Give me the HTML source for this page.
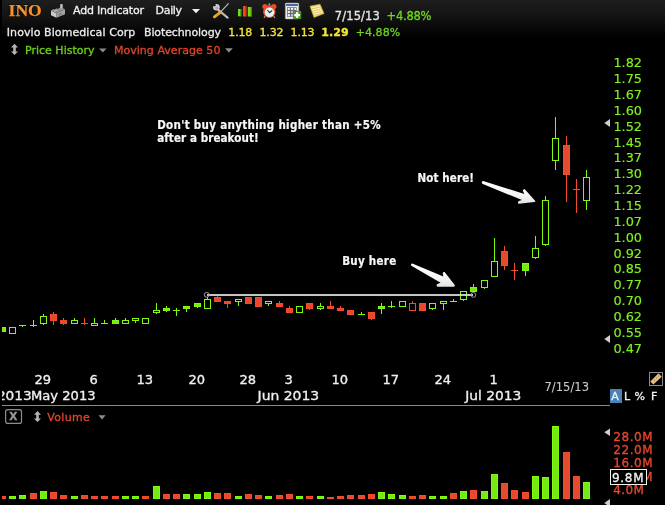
<!DOCTYPE html>
<html><head><meta charset="utf-8">
<style>
html,body{margin:0;padding:0;background:#000;}
body{width:665px;height:505px;overflow:hidden;position:relative;}
svg{display:block;}
.ui{font-family:"DejaVu Sans","Liberation Sans",sans-serif;}
.ui text,text.ui{stroke-width:var(--sw,0.3px);paint-order:stroke;}
.ann{font-family:"DejaVu Sans Condensed","DejaVu Sans",sans-serif;font-weight:bold;fill:#f6f6f6;stroke:#f6f6f6;stroke-width:0.2px;font-size:11.5px;}
</style></head>
<body>
<svg width="665" height="505" viewBox="0 0 665 505">
<defs>
<linearGradient id="hdr" x1="0" y1="0" x2="0" y2="1">
<stop offset="0" stop-color="#1e1e1e"/><stop offset="0.5" stop-color="#111"/><stop offset="1" stop-color="#000"/>
</linearGradient>
<linearGradient id="arr" x1="0" y1="0" x2="0" y2="1">
<stop offset="0" stop-color="#ffffff"/><stop offset="0.6" stop-color="#f6f6f6"/><stop offset="1" stop-color="#e2e2e2"/>
</linearGradient>
<clipPath id="plot"><rect x="2" y="0" width="600" height="505"/></clipPath>
</defs>
<rect width="665" height="505" fill="#000"/>
<rect x="2" y="0" width="663" height="38" fill="url(#hdr)"/>

<!-- header row 1 -->
<text x="8.6" y="15.6" font-family="'Liberation Serif',serif" font-weight="bold" font-size="17" fill="#000" stroke="#000" stroke-width="1.6" stroke-opacity="0.55" textLength="33.2" lengthAdjust="spacingAndGlyphs">INO</text>
<text x="8.6" y="15.6" font-family="'Liberation Serif',serif" font-weight="bold" font-size="17" fill="#f5922f" stroke="#f5922f" stroke-width="0.25" textLength="33.2" lengthAdjust="spacingAndGlyphs">INO</text>
<!-- factory icon -->
<g>
<polygon points="51,10.6 56.4,13.2 56.4,17.8 51,15.2" fill="#cacaca"/>
<polygon points="56.4,13.2 65,9.2 65,14.2 56.4,17.8" fill="#a4a4a4"/>
<polygon points="51,10.6 53.6,9 54.6,9.8 56.8,8.2 57.8,9 60.2,7.6 60.2,4.2 62.6,4.2 62.6,8 65,9.2 56.4,13.2" fill="#909090"/>
<polygon points="60.2,4.2 62.6,4.2 62.6,8.4 60.2,8.4" fill="#b8b8b8"/>
<polygon points="53,10.8 55.6,9.6 57.6,10.4 55,11.8" fill="#b4b4b4"/>
<polygon points="58.6,14 61.6,12.6 61.6,14.6 58.6,16" fill="#7c7c7c"/>
</g>
<g class="ui" font-size="11" fill="#f0f0f0" stroke="#f0f0f0">
<text x="73" y="13.5" textLength="71" lengthAdjust="spacing">Add Indicator</text>
<text x="155.6" y="13.5" textLength="26.5" lengthAdjust="spacing">Daily</text>
</g>
<polygon points="192,9 200,9 196,13.3" fill="#f0f0f0"/>
<!-- tools icon -->
<g>
<polygon points="217.6,8.2 219.4,9.4 228.6,17.2 228.4,18.6 227,18.4 217.2,10.4" fill="#d4d4d4" stroke="#6a6a6a" stroke-width="0.4"/>
<line x1="221" y1="12.2" x2="226" y2="16.4" stroke="#9a9a9a" stroke-width="0.5"/>
<circle cx="216.4" cy="7.2" r="3.3" fill="#cfcfcf"/>
<circle cx="217" cy="8" r="1.6" fill="#a8a8a8"/>
<polygon points="212.2,4.8 214.6,3 216,5.6 214.4,6.6" fill="#151515"/>
<line x1="228.6" y1="3.4" x2="220.4" y2="12.2" stroke="#bdbdbd" stroke-width="1.2"/>
<line x1="220.6" y1="12.2" x2="214.4" y2="16.8" stroke="#f2b424" stroke-width="2.8" stroke-linecap="round"/>
<line x1="219.6" y1="13" x2="215" y2="16.3" stroke="#8a5a08" stroke-width="0.6" stroke-dasharray="0.9,0.9"/>
</g>
<!-- bars icon -->
<g>
<rect x="238" y="9" width="3.3" height="7.3" fill="#6ee00e"/>
<rect x="243" y="6" width="3.5" height="10.5" fill="#ee4a28"/>
<rect x="247.8" y="7" width="3.8" height="9.5" fill="#6ee00e"/>
<rect x="240.3" y="9" width="1" height="7.3" fill="#3a8a08"/>
<rect x="245.5" y="6" width="1" height="10.5" fill="#a02a10"/>
<rect x="250.6" y="7" width="1" height="9.5" fill="#3a8a08"/>
</g>
<!-- alarm clock -->
<g>
<rect x="268.6" y="3.4" width="1.6" height="1.8" fill="#9ab0b8"/>
<circle cx="265" cy="6.6" r="2.7" fill="#e4502a"/>
<circle cx="273.8" cy="6.6" r="2.7" fill="#e4502a"/>
<line x1="265.2" y1="16" x2="264" y2="17.8" stroke="#a0a0a0" stroke-width="1.2"/>
<line x1="273.6" y1="16" x2="274.8" y2="17.8" stroke="#a0a0a0" stroke-width="1.2"/>
<circle cx="269.3" cy="11.6" r="6.3" fill="#e44e28"/>
<circle cx="269.5" cy="12.3" r="4.8" fill="#e2f2fb"/>
<polyline points="267.4,10 269.7,12.6 272.2,10.4" fill="none" stroke="#2a2020" stroke-width="1.1"/>
</g>
<!-- calendar plus icon -->
<g>
<rect x="285.3" y="3" width="13.5" height="16" rx="0.8" fill="#ececec" stroke="#9a9a9a" stroke-width="0.5"/>
<rect x="286.1" y="3.9" width="11.8" height="2.1" fill="#4468b0"/>
<rect x="287" y="7.2" width="9.6" height="9.6" fill="#6a6a6a"/>
<g fill="#fafafa">
<rect x="287.7" y="7.9" width="2.1" height="2"/><rect x="291" y="7.9" width="2.2" height="2"/><rect x="294.4" y="7.9" width="1.6" height="2"/>
<rect x="287.7" y="11" width="2.1" height="2"/>
<rect x="287.7" y="14.1" width="2.1" height="2.1"/>
</g>
<g fill="#a8c4f0"><rect x="291" y="11" width="2.2" height="2"/><rect x="291" y="14.1" width="2.2" height="2.1"/></g>
<rect x="293.1" y="10.9" width="8.1" height="8.1" fill="#4e8e2a"/>
<rect x="295.9" y="12.1" width="2.4" height="5.8" fill="#fff"/>
<rect x="294.2" y="14" width="5.8" height="2.2" fill="#fff"/>
</g>
<!-- note icon -->
<g>
<polygon points="310,6.2 320,4.2 324,13.6 314,17.4" fill="#f3de7c" stroke="#d8aa28" stroke-width="0.7" stroke-linejoin="round"/>
<polygon points="311.5,7.6 319.2,6 322.4,13.2 314.6,16" fill="#fbefb8"/>
<g stroke="#c9a445" stroke-width="0.6">
<line x1="312" y1="8.8" x2="319.5" y2="7.3"/><line x1="312.8" y1="11" x2="320.4" y2="9.4"/><line x1="313.6" y1="13.2" x2="321.3" y2="11.5"/><line x1="314.4" y1="15.3" x2="322" y2="13.4"/>
</g>
</g>
<g class="ui" font-size="11.5">
<text x="334.8" y="19.9" fill="#e6e6e6" stroke="#e6e6e6" textLength="45" lengthAdjust="spacing">7/15/13</text>
<text x="386.5" y="19.9" fill="#6fd61c" stroke="#6fd61c" textLength="45" lengthAdjust="spacing">+4.88%</text>
</g>

<!-- header row 2 -->
<g class="ui" font-size="11">
<text x="6.8" y="35.5" fill="#ececec" stroke="#ececec" textLength="128.5" lengthAdjust="spacing">Inovio Biomedical Corp</text>
<text x="144" y="35.5" fill="#ececec" stroke="#ececec" textLength="77" lengthAdjust="spacing">Biotechnology</text>
<text x="228.3" y="35.5" fill="#f2e43a" stroke="#f2e43a" textLength="24" lengthAdjust="spacing">1.18</text>
<text x="259.5" y="35.5" fill="#f2e43a" stroke="#f2e43a" textLength="24" lengthAdjust="spacing">1.32</text>
<text x="290.6" y="35.5" fill="#f2e43a" stroke="#f2e43a" textLength="24" lengthAdjust="spacing">1.13</text>
<text x="321.3" y="35.5" fill="#f2e43a" stroke="#f2e43a" font-weight="bold" textLength="27.3" lengthAdjust="spacing">1.29</text>
<text x="355.7" y="35.5" fill="#6fd61c" stroke="#6fd61c" textLength="44.5" lengthAdjust="spacing">+4.88%</text>
</g>

<!-- header row 3 -->
<polygon points="14.5,43.8 18,47.6 15.8,47.6 15.8,51.4 18,51.4 14.5,55 11,51.4 13.2,51.4 13.2,47.6 11,47.6" fill="#b4b4b4"/>
<g class="ui" font-size="11">
<text x="25" y="53.9" fill="#6cd41a" stroke="#6cd41a" textLength="69.5" lengthAdjust="spacing">Price History</text>
<text x="113.9" y="53.8" fill="#e0452a" stroke="#e0452a" textLength="106.5" lengthAdjust="spacing">Moving Average 50</text>
</g>
<polygon points="99,48.5 106.6,48.5 102.8,52.5" fill="#8c8c8c"/>
<polygon points="225,48.2 232.8,48.2 228.9,52.4" fill="#8c8c8c"/>

<!-- chart -->
<g clip-path="url(#plot)">
<rect x="-0.5" y="327.5" width="6" height="4" fill="#74ea12" stroke="#7dfa0f" stroke-width="1"/><rect x="9.5" y="327.5" width="6" height="6" fill="none" stroke="#7dfa0f" stroke-width="1"/><rect x="22" y="326" width="1" height="1" fill="#7dfa0f"/><rect x="19" y="325" width="7" height="1" fill="#7dfa0f"/><rect x="33" y="320" width="1" height="5" fill="#7dfa0f"/><rect x="33" y="326" width="1" height="1" fill="#7dfa0f"/><rect x="30" y="325" width="7" height="1" fill="#7dfa0f"/><rect x="43" y="314" width="1" height="2" fill="#7dfa0f"/><rect x="43" y="324" width="1" height="1" fill="#7dfa0f"/><rect x="40.5" y="316.5" width="6" height="7" fill="none" stroke="#7dfa0f" stroke-width="1"/><rect x="53" y="312" width="1" height="2" fill="#f24b30"/><rect x="53" y="321" width="1" height="4" fill="#f24b30"/><rect x="50.5" y="314.5" width="6" height="6" fill="#e64a2e" stroke="#f24b30" stroke-width="1"/><rect x="63" y="318" width="1" height="2" fill="#f24b30"/><rect x="63" y="324" width="1" height="1" fill="#f24b30"/><rect x="60.5" y="320.5" width="6" height="3" fill="#e64a2e" stroke="#f24b30" stroke-width="1"/><rect x="74" y="318" width="1" height="2" fill="#7dfa0f"/><rect x="71.5" y="320.5" width="6" height="3" fill="none" stroke="#7dfa0f" stroke-width="1"/><rect x="84" y="318" width="1" height="5" fill="#f24b30"/><rect x="84" y="324" width="1" height="1" fill="#f24b30"/><rect x="81" y="323" width="7" height="1" fill="#f24b30"/><rect x="94" y="318" width="1" height="5" fill="#7dfa0f"/><rect x="91.5" y="323.5" width="6" height="2" fill="none" stroke="#7dfa0f" stroke-width="1"/><rect x="104" y="320" width="1" height="3" fill="#7dfa0f"/><rect x="101" y="323" width="7" height="1" fill="#7dfa0f"/><rect x="115" y="318" width="1" height="2" fill="#7dfa0f"/><rect x="112.5" y="320.5" width="6" height="3" fill="#74ea12" stroke="#7dfa0f" stroke-width="1"/><rect x="125" y="318" width="1" height="2" fill="#7dfa0f"/><rect x="122.5" y="320.5" width="6" height="3" fill="none" stroke="#7dfa0f" stroke-width="1"/><rect x="135" y="321" width="1" height="2" fill="#7dfa0f"/><rect x="132.5" y="318.5" width="6" height="2" fill="none" stroke="#7dfa0f" stroke-width="1"/><rect x="142.5" y="318.5" width="6" height="5" fill="none" stroke="#7dfa0f" stroke-width="1"/><rect x="156" y="303" width="1" height="7" fill="#7dfa0f"/><rect x="156" y="313" width="1" height="1" fill="#7dfa0f"/><rect x="153.5" y="310.5" width="6" height="2" fill="none" stroke="#7dfa0f" stroke-width="1"/><rect x="166" y="306" width="1" height="2" fill="#7dfa0f"/><rect x="166" y="311" width="1" height="1" fill="#7dfa0f"/><rect x="163.5" y="308.5" width="6" height="2" fill="#74ea12" stroke="#7dfa0f" stroke-width="1"/><rect x="176" y="308" width="1" height="2" fill="#7dfa0f"/><rect x="176" y="311" width="1" height="5" fill="#7dfa0f"/><rect x="173" y="310" width="7" height="1" fill="#7dfa0f"/><rect x="186" y="309" width="1" height="3" fill="#7dfa0f"/><rect x="183.5" y="306.5" width="6" height="2" fill="#74ea12" stroke="#7dfa0f" stroke-width="1"/><rect x="197" y="307" width="1" height="1" fill="#7dfa0f"/><rect x="194.5" y="303.5" width="6" height="3" fill="#74ea12" stroke="#7dfa0f" stroke-width="1"/><rect x="207" y="297" width="1" height="2" fill="#7dfa0f"/><rect x="204.5" y="299.5" width="6" height="9" fill="none" stroke="#7dfa0f" stroke-width="1"/><rect x="217" y="296" width="1" height="1" fill="#f24b30"/><rect x="214.5" y="297.5" width="6" height="4" fill="#e64a2e" stroke="#f24b30" stroke-width="1"/><rect x="227" y="304" width="1" height="4" fill="#f24b30"/><rect x="224.5" y="301.5" width="6" height="2" fill="#e64a2e" stroke="#f24b30" stroke-width="1"/><rect x="238" y="302" width="1" height="4" fill="#7dfa0f"/><rect x="235.5" y="299.5" width="6" height="2" fill="none" stroke="#7dfa0f" stroke-width="1"/><rect x="245.5" y="297.5" width="6" height="6" fill="#e64a2e" stroke="#f24b30" stroke-width="1"/><rect x="255.5" y="297.5" width="6" height="9" fill="#e64a2e" stroke="#f24b30" stroke-width="1"/><rect x="268" y="304" width="1" height="2" fill="#7dfa0f"/><rect x="265.5" y="301.5" width="6" height="2" fill="none" stroke="#7dfa0f" stroke-width="1"/><rect x="279" y="301" width="1" height="2" fill="#f24b30"/><rect x="276.5" y="303.5" width="6" height="3" fill="#e64a2e" stroke="#f24b30" stroke-width="1"/><rect x="289" y="306" width="1" height="2" fill="#f24b30"/><rect x="286.5" y="308.5" width="6" height="4" fill="#e64a2e" stroke="#f24b30" stroke-width="1"/><rect x="296.5" y="306.5" width="6" height="6" fill="none" stroke="#7dfa0f" stroke-width="1"/><rect x="309" y="309" width="1" height="1" fill="#f24b30"/><rect x="306.5" y="303.5" width="6" height="5" fill="#e64a2e" stroke="#f24b30" stroke-width="1"/><rect x="320" y="303" width="1" height="3" fill="#7dfa0f"/><rect x="320" y="309" width="1" height="1" fill="#7dfa0f"/><rect x="317.5" y="306.5" width="6" height="2" fill="none" stroke="#7dfa0f" stroke-width="1"/><rect x="330" y="301" width="1" height="5" fill="#f24b30"/><rect x="327.5" y="306.5" width="6" height="2" fill="#e64a2e" stroke="#f24b30" stroke-width="1"/><rect x="340" y="306" width="1" height="2" fill="#f24b30"/><rect x="337.5" y="308.5" width="6" height="2" fill="#e64a2e" stroke="#f24b30" stroke-width="1"/><rect x="347.5" y="310.5" width="6" height="4" fill="#e64a2e" stroke="#f24b30" stroke-width="1"/><rect x="361" y="312" width="1" height="2" fill="#7dfa0f"/><rect x="358" y="314" width="7" height="1" fill="#7dfa0f"/><rect x="371" y="319" width="1" height="1" fill="#f24b30"/><rect x="368.5" y="312.5" width="6" height="6" fill="#e64a2e" stroke="#f24b30" stroke-width="1"/><rect x="381" y="303" width="1" height="3" fill="#7dfa0f"/><rect x="381" y="309" width="1" height="5" fill="#7dfa0f"/><rect x="378.5" y="306.5" width="6" height="2" fill="#74ea12" stroke="#7dfa0f" stroke-width="1"/><rect x="391" y="301" width="1" height="5" fill="#7dfa0f"/><rect x="391" y="307" width="1" height="1" fill="#7dfa0f"/><rect x="388" y="306" width="7" height="1" fill="#7dfa0f"/><rect x="399.5" y="301.5" width="6" height="5" fill="none" stroke="#7dfa0f" stroke-width="1"/><rect x="412" y="301" width="1" height="2" fill="#f24b30"/><rect x="409.5" y="303.5" width="6" height="7" fill="none" stroke="#f24b30" stroke-width="1"/><rect x="419.5" y="303.5" width="6" height="7" fill="#e64a2e" stroke="#f24b30" stroke-width="1"/><rect x="432" y="309" width="1" height="1" fill="#7dfa0f"/><rect x="429.5" y="303.5" width="6" height="5" fill="none" stroke="#7dfa0f" stroke-width="1"/><rect x="443" y="304" width="1" height="6" fill="#7dfa0f"/><rect x="440.5" y="301.5" width="6" height="2" fill="none" stroke="#7dfa0f" stroke-width="1"/><rect x="453" y="299" width="1" height="2" fill="#7dfa0f"/><rect x="450" y="301" width="7" height="1" fill="#7dfa0f"/><rect x="463" y="300" width="1" height="1" fill="#7dfa0f"/><rect x="460.5" y="291.5" width="6" height="8" fill="none" stroke="#7dfa0f" stroke-width="1"/><rect x="473" y="284" width="1" height="3" fill="#7dfa0f"/><rect x="470.5" y="287.5" width="6" height="4" fill="#74ea12" stroke="#7dfa0f" stroke-width="1"/><rect x="484" y="288" width="1" height="1" fill="#7dfa0f"/><rect x="481.5" y="280.5" width="6" height="7" fill="none" stroke="#7dfa0f" stroke-width="1"/><rect x="494" y="238" width="1" height="23" fill="#7dfa0f"/><rect x="491.5" y="261.5" width="6" height="15" fill="none" stroke="#7dfa0f" stroke-width="1"/><rect x="504" y="246" width="1" height="5" fill="#f24b30"/><rect x="504" y="266" width="1" height="4" fill="#f24b30"/><rect x="501.5" y="251.5" width="6" height="14" fill="#e64a2e" stroke="#f24b30" stroke-width="1"/><rect x="514" y="263" width="1" height="7" fill="#f24b30"/><rect x="514" y="271" width="1" height="9" fill="#f24b30"/><rect x="511" y="270" width="7" height="1" fill="#f24b30"/><rect x="525" y="271" width="1" height="5" fill="#7dfa0f"/><rect x="522.5" y="263.5" width="6" height="7" fill="#74ea12" stroke="#7dfa0f" stroke-width="1"/><rect x="535" y="236" width="1" height="12" fill="#7dfa0f"/><rect x="535" y="258" width="1" height="1" fill="#7dfa0f"/><rect x="532.5" y="248.5" width="6" height="9" fill="none" stroke="#7dfa0f" stroke-width="1"/><rect x="545" y="196" width="1" height="4" fill="#7dfa0f"/><rect x="545" y="245" width="1" height="1" fill="#7dfa0f"/><rect x="542.5" y="200.5" width="6" height="44" fill="none" stroke="#7dfa0f" stroke-width="1"/><rect x="555" y="117" width="1" height="21" fill="#7dfa0f"/><rect x="555" y="161" width="1" height="9" fill="#7dfa0f"/><rect x="552.5" y="138.5" width="6" height="22" fill="none" stroke="#7dfa0f" stroke-width="1"/><rect x="566" y="136" width="1" height="9" fill="#f24b30"/><rect x="566" y="175" width="1" height="27" fill="#f24b30"/><rect x="563.5" y="145.5" width="6" height="29" fill="#e64a2e" stroke="#f24b30" stroke-width="1"/><rect x="576" y="179" width="1" height="10" fill="#f24b30"/><rect x="576" y="190" width="1" height="23" fill="#f24b30"/><rect x="573" y="189" width="7" height="1" fill="#f24b30"/><rect x="586" y="170" width="1" height="7" fill="#7dfa0f"/><rect x="586" y="201" width="1" height="9" fill="#7dfa0f"/><rect x="583.5" y="177.5" width="6" height="23" fill="none" stroke="#7dfa0f" stroke-width="1"/>
</g>
<!-- breakout line -->
<rect x="207" y="294" width="266" height="2" fill="#e0e0e0" fill-opacity="0.88"/>
<circle cx="206.7" cy="294.8" r="2.4" fill="none" stroke="#9a9a9a" stroke-width="1"/>
<circle cx="473.4" cy="294.9" r="2.4" fill="none" stroke="#9a9a9a" stroke-width="1"/>

<!-- annotations -->
<text class="ann" x="157.2" y="128.8" textLength="223.5" lengthAdjust="spacing">Don't buy anything higher than +5%</text>
<text class="ann" x="157.2" y="141.8" textLength="101.5" lengthAdjust="spacing">after a breakout!</text>
<text class="ann" x="342.2" y="264.7" textLength="54" lengthAdjust="spacing">Buy here</text>
<text class="ann" x="417.5" y="181.7" textLength="56.5" lengthAdjust="spacing">Not here!</text>
<!-- arrows -->
<path d="M412.3,263.4 L443.4,276.6 L442.7,273.6 Q442.6,271.6 444.6,272 L454.9,285.3 Q455,286.7 453.8,286.8 L437.8,286.8 Q436.3,286.6 436.6,285 L437.4,284 L440.6,282.8 L412.2,266.3 Q410.6,265.6 411.1,264.2 Q411.5,263.3 412.3,263.4 Z" fill="url(#arr)"/>
<path d="M483.1,180.9 L524.4,194.1 L523,191.2 Q522.6,189 524.8,189.2 L535.3,200.9 Q535.6,202 534.4,202.1 L519.1,203.8 Q517.6,203.7 517.9,202.3 L518.8,201.1 L522,200.1 L482.9,183.9 Q481.6,183.3 481.9,181.9 Q482.3,180.9 483.1,180.9 Z" fill="url(#arr)"/>

<!-- price axis -->
<g class="ui" font-size="12" fill="#80f21c" stroke="#80f21c" style="--sw:0.15px">
<text x="613.4" y="67.30" textLength="28.6" lengthAdjust="spacingAndGlyphs">1.82</text><text x="613.4" y="83.16" textLength="28.6" lengthAdjust="spacingAndGlyphs">1.75</text><text x="613.4" y="99.02" textLength="28.6" lengthAdjust="spacingAndGlyphs">1.67</text><text x="613.4" y="114.88" textLength="28.6" lengthAdjust="spacingAndGlyphs">1.60</text><text x="613.4" y="130.74" textLength="28.6" lengthAdjust="spacingAndGlyphs">1.52</text><text x="613.4" y="146.60" textLength="28.6" lengthAdjust="spacingAndGlyphs">1.45</text><text x="613.4" y="162.46" textLength="28.6" lengthAdjust="spacingAndGlyphs">1.37</text><text x="613.4" y="178.32" textLength="28.6" lengthAdjust="spacingAndGlyphs">1.30</text><text x="613.4" y="194.18" textLength="28.6" lengthAdjust="spacingAndGlyphs">1.22</text><text x="613.4" y="210.04" textLength="28.6" lengthAdjust="spacingAndGlyphs">1.15</text><text x="613.4" y="225.90" textLength="28.6" lengthAdjust="spacingAndGlyphs">1.07</text><text x="613.4" y="241.76" textLength="28.6" lengthAdjust="spacingAndGlyphs">1.00</text><text x="613.4" y="257.62" textLength="28.6" lengthAdjust="spacingAndGlyphs">0.92</text><text x="613.4" y="273.48" textLength="28.6" lengthAdjust="spacingAndGlyphs">0.85</text><text x="613.4" y="289.34" textLength="28.6" lengthAdjust="spacingAndGlyphs">0.77</text><text x="613.4" y="305.20" textLength="28.6" lengthAdjust="spacingAndGlyphs">0.70</text><text x="613.4" y="321.06" textLength="28.6" lengthAdjust="spacingAndGlyphs">0.62</text><text x="613.4" y="336.92" textLength="28.6" lengthAdjust="spacingAndGlyphs">0.55</text><text x="613.4" y="352.78" textLength="28.6" lengthAdjust="spacingAndGlyphs">0.47</text>
</g>
<polygon points="604.3,123 610,119 610,127.1" fill="#cfcfcf"/>
<polygon points="604.3,339 610,335 610,343" fill="#cfcfcf"/>

<!-- date axis -->
<g class="ui" font-size="12" fill="#f0f0f0" stroke="#f0f0f0">
<text x="42.7" y="383.6" text-anchor="middle" textLength="16.6" lengthAdjust="spacingAndGlyphs">29</text><text x="93.7" y="383.6" text-anchor="middle" textLength="8.3" lengthAdjust="spacingAndGlyphs">6</text><text x="144.7" y="383.6" text-anchor="middle" textLength="16.6" lengthAdjust="spacingAndGlyphs">13</text><text x="196.7" y="383.6" text-anchor="middle" textLength="16.6" lengthAdjust="spacingAndGlyphs">20</text><text x="247.7" y="383.6" text-anchor="middle" textLength="16.6" lengthAdjust="spacingAndGlyphs">28</text><text x="288.7" y="383.6" text-anchor="middle" textLength="8.3" lengthAdjust="spacingAndGlyphs">3</text><text x="339.7" y="383.6" text-anchor="middle" textLength="16.6" lengthAdjust="spacingAndGlyphs">10</text><text x="390.7" y="383.6" text-anchor="middle" textLength="16.6" lengthAdjust="spacingAndGlyphs">17</text><text x="442.7" y="383.6" text-anchor="middle" textLength="16.6" lengthAdjust="spacingAndGlyphs">24</text><text x="493.7" y="383.6" text-anchor="middle" textLength="8.3" lengthAdjust="spacingAndGlyphs">1</text>
</g>
<g clip-path="url(#plot)" class="ui" font-size="12" fill="#f0f0f0" stroke="#f0f0f0">
<text x="63.3" y="399.6" text-anchor="middle" textLength="64.6" lengthAdjust="spacingAndGlyphs">May 2013</text><text x="288.4" y="399.6" text-anchor="middle" textLength="61.6" lengthAdjust="spacingAndGlyphs">Jun 2013</text><text x="493.3" y="399.6" text-anchor="middle" textLength="56.2" lengthAdjust="spacingAndGlyphs">Jul 2013</text>
<text x="31.8" y="399.6" text-anchor="end" textLength="63" lengthAdjust="spacingAndGlyphs">Apr 2013</text>
</g>
<text class="ui" x="544.5" y="391.3" font-size="11.5" fill="#c8c8c8" stroke="#c8c8c8" style="--sw:0.1px" textLength="44.5" lengthAdjust="spacing">7/15/13</text>

<!-- ruler icon -->
<rect x="649.5" y="372.5" width="13" height="13" fill="none" stroke="#8a8a8a" stroke-width="1"/>
<polygon points="650.3,381.6 658.5,373.2 661.8,376.7 653.3,384.4" fill="#e8bb84"/>
<g fill="#8a6a40"><circle cx="654.5" cy="380" r="0.5"/><circle cx="656.5" cy="378" r="0.5"/><circle cx="658.5" cy="376" r="0.5"/></g>
<!-- A L % F -->
<rect x="610" y="389" width="12" height="14" fill="#4b81b9"/>
<g class="ui" font-size="11" fill="#f2f2f2" stroke="#f2f2f2">
<text x="611.3" y="400">A</text>
<text x="624" y="400">L</text>
<text x="634.6" y="400">%</text>
<text x="651" y="400">F</text>
</g>
<!-- separator -->
<rect x="2" y="405" width="608" height="1" fill="#8a8a8a"/>

<!-- volume header -->
<rect x="5.6" y="409.6" width="15.9" height="13.8" rx="2.2" fill="none" stroke="#8e8e8e" stroke-width="1.2"/>
<text x="13.4" y="419.9" text-anchor="middle" font-family="'DejaVu Sans',sans-serif" font-weight="bold" font-size="10.5" fill="#9a9a9a" stroke="#9a9a9a" stroke-width="0.3">X</text>
<polygon points="37.5,410.9 41,414.7 38.8,414.7 38.8,418.4 41,418.4 37.5,422 34,418.4 36.2,418.4 36.2,414.7 34,414.7" fill="#b4b4b4"/>
<text class="ui" x="47.3" y="420.8" font-size="11" fill="#e2472c" stroke="#e2472c" textLength="42.5" lengthAdjust="spacing">Volume</text>
<polygon points="98.4,415.3 105.6,415.3 102,419.5" fill="#8c8c8c"/>

<!-- volume bars -->
<g clip-path="url(#plot)">
<rect x="-0.5" y="496.5" width="6" height="2" fill="#e64a2e" stroke="#f24b30" stroke-width="1"/><rect x="9.5" y="496.5" width="6" height="2" fill="#74ea12" stroke="#7dfa0f" stroke-width="1"/><rect x="19.5" y="495.5" width="6" height="3" fill="#74ea12" stroke="#7dfa0f" stroke-width="1"/><rect x="30.5" y="493.5" width="6" height="5" fill="#e64a2e" stroke="#f24b30" stroke-width="1"/><rect x="40.5" y="491.5" width="6" height="7" fill="#74ea12" stroke="#7dfa0f" stroke-width="1"/><rect x="50.5" y="492.5" width="6" height="6" fill="#e64a2e" stroke="#f24b30" stroke-width="1"/><rect x="60.5" y="495.5" width="6" height="3" fill="#e64a2e" stroke="#f24b30" stroke-width="1"/><rect x="71.5" y="496.5" width="6" height="2" fill="#74ea12" stroke="#7dfa0f" stroke-width="1"/><rect x="81.5" y="495.5" width="6" height="3" fill="#e64a2e" stroke="#f24b30" stroke-width="1"/><rect x="91.5" y="496.5" width="6" height="2" fill="#e64a2e" stroke="#f24b30" stroke-width="1"/><rect x="101.5" y="496.5" width="6" height="2" fill="#e64a2e" stroke="#f24b30" stroke-width="1"/><rect x="112.5" y="496.5" width="6" height="2" fill="#e64a2e" stroke="#f24b30" stroke-width="1"/><rect x="122.5" y="496.5" width="6" height="2" fill="#74ea12" stroke="#7dfa0f" stroke-width="1"/><rect x="132.5" y="496.5" width="6" height="2" fill="#74ea12" stroke="#7dfa0f" stroke-width="1"/><rect x="142.5" y="496.5" width="6" height="2" fill="#e64a2e" stroke="#f24b30" stroke-width="1"/><rect x="153.5" y="486.5" width="6" height="12" fill="#74ea12" stroke="#7dfa0f" stroke-width="1"/><rect x="163.5" y="494.5" width="6" height="4" fill="#e64a2e" stroke="#f24b30" stroke-width="1"/><rect x="173.5" y="494.5" width="6" height="4" fill="#e64a2e" stroke="#f24b30" stroke-width="1"/><rect x="183.5" y="494.5" width="6" height="4" fill="#74ea12" stroke="#7dfa0f" stroke-width="1"/><rect x="194.5" y="494.5" width="6" height="4" fill="#74ea12" stroke="#7dfa0f" stroke-width="1"/><rect x="204.5" y="492.5" width="6" height="6" fill="#74ea12" stroke="#7dfa0f" stroke-width="1"/><rect x="214.5" y="493.5" width="6" height="5" fill="#e64a2e" stroke="#f24b30" stroke-width="1"/><rect x="224.5" y="493.5" width="6" height="5" fill="#e64a2e" stroke="#f24b30" stroke-width="1"/><rect x="235.5" y="496.5" width="6" height="2" fill="#74ea12" stroke="#7dfa0f" stroke-width="1"/><rect x="245.5" y="494.5" width="6" height="4" fill="#e64a2e" stroke="#f24b30" stroke-width="1"/><rect x="255.5" y="495.5" width="6" height="3" fill="#e64a2e" stroke="#f24b30" stroke-width="1"/><rect x="265.5" y="496.5" width="6" height="2" fill="#74ea12" stroke="#7dfa0f" stroke-width="1"/><rect x="276.5" y="495.5" width="6" height="3" fill="#e64a2e" stroke="#f24b30" stroke-width="1"/><rect x="286.5" y="494.5" width="6" height="4" fill="#e64a2e" stroke="#f24b30" stroke-width="1"/><rect x="296.5" y="496.5" width="6" height="2" fill="#74ea12" stroke="#7dfa0f" stroke-width="1"/><rect x="306.5" y="496.5" width="6" height="2" fill="#e64a2e" stroke="#f24b30" stroke-width="1"/><rect x="317.5" y="496.5" width="6" height="2" fill="#74ea12" stroke="#7dfa0f" stroke-width="1"/><rect x="327.5" y="497.5" width="6" height="1" fill="#e64a2e" stroke="#f24b30" stroke-width="1"/><rect x="337.5" y="496.5" width="6" height="2" fill="#e64a2e" stroke="#f24b30" stroke-width="1"/><rect x="347.5" y="495.5" width="6" height="3" fill="#e64a2e" stroke="#f24b30" stroke-width="1"/><rect x="358.5" y="495.5" width="6" height="3" fill="#e64a2e" stroke="#f24b30" stroke-width="1"/><rect x="368.5" y="494.5" width="6" height="4" fill="#e64a2e" stroke="#f24b30" stroke-width="1"/><rect x="378.5" y="492.5" width="6" height="6" fill="#74ea12" stroke="#7dfa0f" stroke-width="1"/><rect x="388.5" y="494.5" width="6" height="4" fill="#74ea12" stroke="#7dfa0f" stroke-width="1"/><rect x="399.5" y="495.5" width="6" height="3" fill="#74ea12" stroke="#7dfa0f" stroke-width="1"/><rect x="409.5" y="496.5" width="6" height="2" fill="#e64a2e" stroke="#f24b30" stroke-width="1"/><rect x="419.5" y="495.5" width="6" height="3" fill="#e64a2e" stroke="#f24b30" stroke-width="1"/><rect x="429.5" y="496.5" width="6" height="2" fill="#74ea12" stroke="#7dfa0f" stroke-width="1"/><rect x="440.5" y="496.5" width="6" height="2" fill="#74ea12" stroke="#7dfa0f" stroke-width="1"/><rect x="450.5" y="493.5" width="6" height="5" fill="#e64a2e" stroke="#f24b30" stroke-width="1"/><rect x="460.5" y="491.5" width="6" height="7" fill="#74ea12" stroke="#7dfa0f" stroke-width="1"/><rect x="470.5" y="490.5" width="6" height="8" fill="#e64a2e" stroke="#f24b30" stroke-width="1"/><rect x="481.5" y="491.5" width="6" height="7" fill="#74ea12" stroke="#7dfa0f" stroke-width="1"/><rect x="491.5" y="474.5" width="6" height="24" fill="#74ea12" stroke="#7dfa0f" stroke-width="1"/><rect x="501.5" y="483.5" width="6" height="15" fill="#e64a2e" stroke="#f24b30" stroke-width="1"/><rect x="511.5" y="490.5" width="6" height="8" fill="#e64a2e" stroke="#f24b30" stroke-width="1"/><rect x="522.5" y="492.5" width="6" height="6" fill="#e64a2e" stroke="#f24b30" stroke-width="1"/><rect x="532.5" y="476.5" width="6" height="22" fill="#74ea12" stroke="#7dfa0f" stroke-width="1"/><rect x="542.5" y="477.5" width="6" height="21" fill="#74ea12" stroke="#7dfa0f" stroke-width="1"/><rect x="552.5" y="426.5" width="6" height="72" fill="#74ea12" stroke="#7dfa0f" stroke-width="1"/><rect x="563.5" y="452.5" width="6" height="46" fill="#e64a2e" stroke="#f24b30" stroke-width="1"/><rect x="573.5" y="476.5" width="6" height="22" fill="#e64a2e" stroke="#f24b30" stroke-width="1"/><rect x="583.5" y="482.5" width="6" height="16" fill="#74ea12" stroke="#7dfa0f" stroke-width="1"/>
</g>

<!-- volume axis -->
<g class="ui" font-size="12" fill="#e8472c" stroke="#e8472c">
<text x="613.3" y="440.8" textLength="39.2" lengthAdjust="spacing">28.0M</text>
<text x="613.3" y="453.8" textLength="39.2" lengthAdjust="spacing">22.0M</text>
<text x="613.3" y="466.8" textLength="39.2" lengthAdjust="spacing">16.0M</text>
<text x="613.3" y="481" textLength="39.2" lengthAdjust="spacing">10.0M</text>
<text x="613.3" y="494" textLength="30.5" lengthAdjust="spacing">4.0M</text>
</g>
<rect x="610.5" y="469.5" width="36" height="15" fill="#000" stroke="#f0f0f0" stroke-width="1"/>
<text class="ui" x="612" y="481.7" font-size="12" fill="#f4f4f4" stroke="#f4f4f4" textLength="31.5" lengthAdjust="spacing">9.8M</text>
<polygon points="604.3,432.2 610,428.4 610,436" fill="#cfcfcf"/>
<polygon points="604.3,503 610,499 610,507" fill="#cfcfcf"/>
</svg>
</body></html>
